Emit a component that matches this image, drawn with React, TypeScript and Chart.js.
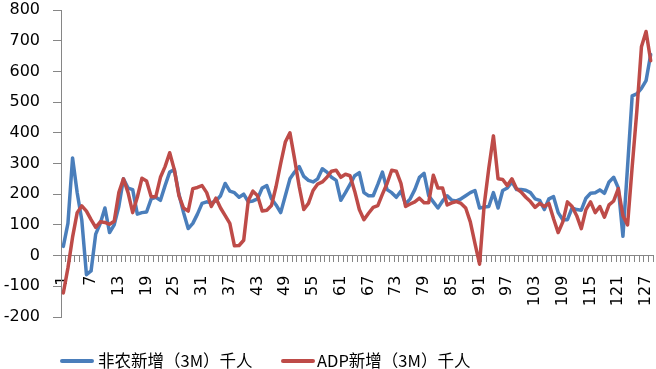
import React, { useEffect, useRef } from "react";
import { Chart, registerables } from "chart.js";

Chart.register(...registerables);

// Category labels: months 1..128
const categories: string[] = Array.from({ length: 128 }, (_, i) => String(i + 1));

// Show every 6th category label: 1, 7, 13, ... 127
const labelStep = 6;

const seriesNames = ["非农新增（3M）千人", "ADP新增（3M）千人"];

// 非农新增（3M）千人
const nonfarm: number[] = [
  30, 105, 318, 205, 115, -62, -50, 70, 105, 155,
  75, 100, 160, 250, 220, 215, 135, 140, 142, 185,
  190, 180, 228, 272, 280, 200, 140, 88, 105, 135,
  170, 175, 172, 178, 195, 235, 210, 205, 190, 200,
  175, 178, 185, 220, 228, 185, 165, 140, 195, 250,
  272, 290, 258, 245, 240, 250, 283, 272, 255, 245,
  180, 205, 232, 260, 270, 205, 195, 195, 232, 272,
  215, 205, 190, 210, 168, 185, 215, 255, 268, 195,
  175, 155, 178, 195, 180, 178, 185, 195, 205, 212,
  155, 158, 160, 205, 155, 212, 220, 240, 215, 215,
  213, 205, 185, 180, 150, 185, 192, 140, 117, 117,
  155, 150, 148, 187, 203, 205, 214, 203, 240, 255,
  220, 63, 290, 520, 527, 545, 570, 655,
];

// ADP新增（3M）千人
const adp: number[] = [
  -122, -40, 60, 140, 162, 145, 117, 92, 110, 108,
  102, 112, 205, 250, 205, 140, 190, 252, 243, 192,
  192, 255, 290, 335, 280, 195, 155, 145, 218, 222,
  228, 205, 160, 187, 155, 130, 105, 32, 33, 50,
  180, 210, 195, 145, 148, 163, 225, 300, 370, 400,
  315, 225, 150, 170, 212, 233, 240, 255, 275, 278,
  255, 265, 260, 210, 150, 117, 138, 157, 163, 200,
  235, 278, 275, 235, 160, 168, 175, 187, 172, 172,
  262, 220, 220, 165, 172, 176, 170, 155, 110, 40,
  -28, 165, 285, 390, 250, 248, 228, 250, 218, 207,
  190, 176, 157, 170, 160, 170, 120, 75, 110, 175,
  160, 130, 88, 150, 175, 140, 160, 125, 165, 178,
  218, 130, 100, 290, 470, 680, 730, 635,
];

const yMin = -200;
const yMax = 800;
const yStep = 100;

const colors = ["#4A7EBB", "#BE4B48"];
const axisColor = "#868686";
const tickFont = { family: "'DejaVu Sans', sans-serif", size: 16 };

export default function App() {
  const canvasRef = useRef<HTMLCanvasElement | null>(null);

  useEffect(() => {
    const canvas = canvasRef.current;
    if (!canvas) return;
    const chart = new Chart(canvas, {
      type: "line",
      data: {
        labels: categories,
        datasets: [
          {
            label: seriesNames[0],
            data: nonfarm,
            borderColor: colors[0],
            backgroundColor: colors[0],
            borderWidth: 3.5,
            pointRadius: 0,
            tension: 0,
            borderJoinStyle: "round",
            borderCapStyle: "round",
            order: 1,
          },
          {
            label: seriesNames[1],
            data: adp,
            borderColor: colors[1],
            backgroundColor: colors[1],
            borderWidth: 3.5,
            pointRadius: 0,
            tension: 0,
            borderJoinStyle: "round",
            borderCapStyle: "round",
            order: 0,
          },
        ],
      },
      options: {
        responsive: false,
        animation: false,
        layout: { padding: { left: 0, right: 3, top: 10, bottom: 52 } },
        plugins: {
          legend: { display: false },
          tooltip: { enabled: false },
        },
        scales: {
          x: {
            type: "category",
            position: { y: 0 } as any,
            offset: true,
            z: 1,
            grid: {
              offset: true,
              drawOnChartArea: false,
              drawTicks: true,
              tickLength: 6,
              color: axisColor,
            },
            border: { display: true, color: axisColor, width: 1 },
            ticks: {
              autoSkip: false,
              minRotation: 90,
              maxRotation: 90,
              padding: 14,
              color: "#000",
              font: tickFont,
              callback: (_v: any, i: number) => (i % labelStep === 0 ? categories[i] : ""),
            },
            afterFit: (s: any) => {
              s.paddingLeft = 0;
              s.paddingRight = 0;
            },
          },
          y: {
            position: "left",
            min: yMin,
            max: yMax,
            ticks: {
              stepSize: yStep,
              padding: 13,
              color: "#000",
              font: tickFont,
            },
            grid: {
              drawOnChartArea: false,
              drawTicks: true,
              tickLength: 8,
              color: axisColor,
            },
            border: { display: true, color: axisColor, width: 1 },
            afterFit: (s: any) => {
              s.width = 61;
              s.paddingTop = 0;
              s.paddingBottom = 0;
            },
          },
        },
      } as any,
    });
    return () => chart.destroy();
  }, []);

  const legendFont = "'Noto Sans CJK SC', 'Noto Sans', sans-serif";

  return (
    <div
      style={{
        position: "fixed",
        left: 0,
        top: 0,
        width: 656,
        height: 369,
        background: "#fff",
        overflow: "hidden",
      }}
    >
      <canvas ref={canvasRef} width={656} height={369} style={{ display: "block" }} />
      {[
        { x: 60, tx: 98 },
        { x: 281, tx: 317 },
      ].map((p, i) => (
        <React.Fragment key={i}>
          <div
            style={{
              position: "absolute",
              left: p.x,
              top: 359,
              width: 34,
              height: 4,
              borderRadius: 2,
              background: colors[i],
            }}
          />
          <span
            style={{
              position: "absolute",
              left: p.tx,
              top: 349,
              fontFamily: legendFont,
              fontSize: 16.5,
              lineHeight: "22px",
              color: "#000",
              whiteSpace: "nowrap",
            }}
          >
            {seriesNames[i]}
          </span>
        </React.Fragment>
      ))}
    </div>
  );
}
